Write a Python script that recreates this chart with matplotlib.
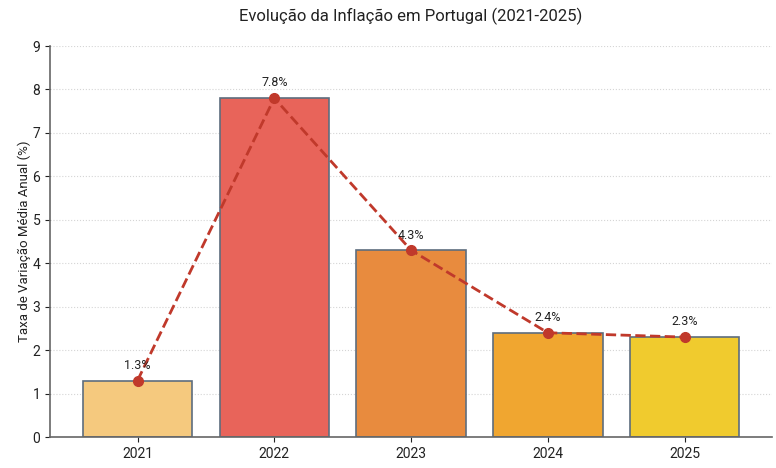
import matplotlib
matplotlib.use("Agg")
import matplotlib.pyplot as plt

plt.rcParams['font.family'] = ['Roboto', 'DejaVu Sans']

years = ["2021", "2022", "2023", "2024", "2025"]
inflation = [1.3, 7.8, 4.3, 2.4, 2.3]
bar_colors = ["#F5C97E", "#E8645A", "#E88B3E", "#F0A630", "#F0CB2E"]
title = "Evolução da Inflação em Portugal (2021-2025)"
ylabel = "Taxa de Variação Média Anual (%)"

fig = plt.figure(figsize=(7.76, 4.68), dpi=100)
ax = fig.add_axes([0.0644, 0.0662, 0.9306, 0.8355])

x = list(range(len(years)))
ax.bar(x, inflation, width=0.8, color=bar_colors, edgecolor="#5D6D7E", linewidth=1.2, zorder=2)
ax.plot(x, inflation, color="#C0392B", linestyle="--", linewidth=2, marker="o", markersize=7, zorder=3)

for xi, v in zip(x, inflation):
    ax.text(xi, v + 0.2, f"{v}%", ha="center", va="bottom", fontsize=9, color="#222222", zorder=4)

ax.set_xticks(x)
ax.set_xticklabels(years)
ax.set_ylim(0, 9)
ax.set_yticks(range(0, 10))
ax.set_xlim(-0.64, 4.64)
ax.set_ylabel(ylabel, fontsize=9.5, color="#222222", labelpad=1)
ax.set_title(title, fontsize=12, color="#222222", pad=18)
ax.tick_params(labelsize=10, colors="#222222")
ax.grid(axis="y", linestyle=":", color="#D5D5D5", linewidth=0.8, zorder=0)
ax.set_axisbelow(True)
for s in ["top", "right"]:
    ax.spines[s].set_visible(False)
for s in ["left", "bottom"]:
    ax.spines[s].set_color("#666666")
    ax.spines[s].set_linewidth(1.2)

fig.savefig("out.png", dpi=100)
